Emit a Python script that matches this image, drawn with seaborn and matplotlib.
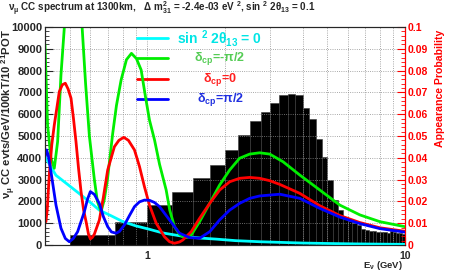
import numpy as np
import pandas as pd
import matplotlib
matplotlib.use('Agg')
import matplotlib.pyplot as plt
import seaborn as sns
from matplotlib.ticker import MultipleLocator, FixedLocator, NullFormatter, LogLocator
from matplotlib.lines import Line2D

# nu_mu CC spectrum, 0.25 GeV bins from 0.5 to 10 GeV
bin_edges = [round(0.5 + 0.25 * i, 2) for i in range(39)]
counts = [460, 1070, 1830, 2450, 3060, 3670, 4360, 5050, 5700, 6090,
          6530, 6880, 6930, 6880, 6270, 5770, 4850, 4050, 2980, 2060,
          1600, 1300, 1100, 1000, 900, 750, 680, 640, 620, 600,
          590, 600, 570, 620, 590, 560, 530, 500]

# appearance probability, sin^2 2theta13 = 0
e_cyan = [0.400, 0.441, 0.512, 0.595, 0.650, 0.720, 0.800, 0.900, 1.018, 1.150,
          1.372, 1.600, 1.850, 2.200, 2.727, 3.300, 4.000, 5.000, 6.500, 8.000, 10.0]
p_cyan = [0.0405, 0.032, 0.026, 0.0199, 0.016, 0.0135, 0.0108, 0.0088, 0.0072, 0.0055,
          0.0040, 0.0032, 0.0027, 0.0020, 0.0015, 0.0012, 0.0009, 0.0007, 0.0005,
          0.0004, 0.0003]

# delta_cp = -pi/2
e_green = [0.400, 0.4093, 0.4219, 0.4346, 0.4478, 0.4614, 0.4756, 0.492, 0.5134, 0.535,
           0.5574, 0.575, 0.5948, 0.622, 0.6389, 0.6605, 0.680, 0.699, 0.7328, 0.7577,
           0.790, 0.8285, 0.8665, 0.906, 0.945, 0.9822, 1.018, 1.065, 1.114, 1.182,
           1.220, 1.273, 1.330, 1.372, 1.418, 1.479, 1.593, 1.744, 1.906, 2.085,
           2.279, 2.494, 2.727, 2.984, 3.360, 3.903, 4.671, 5.586, 6.683, 7.993, 10.0]
p_green = [0.092, 0.055, 0.0398, 0.0352, 0.0474, 0.078, 0.100, 0.125, 0.138, 0.127,
           0.100, 0.074, 0.050, 0.030, 0.020, 0.0153, 0.021, 0.030, 0.0512, 0.064,
           0.0757, 0.085, 0.0879, 0.0855, 0.0803, 0.068, 0.0573, 0.0482, 0.037, 0.0252,
           0.016, 0.0084, 0.0050, 0.0038, 0.0034, 0.0046, 0.0107, 0.0191, 0.0275, 0.0344,
           0.0398, 0.0417, 0.0423, 0.0417, 0.0382, 0.0321, 0.0252, 0.0183, 0.0138, 0.0107,
           0.0084]

# delta_cp = 0
e_red = [0.400, 0.4032, 0.408, 0.4155, 0.425, 0.4346, 0.4545, 0.467, 0.4797, 0.492,
         0.5048, 0.516, 0.5277, 0.540, 0.5521, 0.565, 0.5776, 0.590, 0.600, 0.611,
         0.622, 0.6505, 0.6743, 0.7006, 0.744, 0.7745, 0.8087, 0.8435, 0.8902, 0.931,
         0.9734, 1.018, 1.081, 1.164, 1.218, 1.273, 1.332, 1.372, 1.479, 1.593,
         1.744, 1.906, 2.085, 2.279, 2.494, 2.727, 2.984, 3.264, 3.903, 4.671,
         5.586, 6.683, 7.993, 10.0]
p_red = [0.0122, 0.0107, 0.016, 0.032, 0.046, 0.055, 0.0703, 0.0735, 0.0742, 0.0715,
         0.0673, 0.058, 0.0474, 0.035, 0.0245, 0.016, 0.0107, 0.005, 0.0028, 0.0035,
         0.005, 0.0115, 0.022, 0.0344, 0.0451, 0.048, 0.0494, 0.048, 0.0436, 0.036,
         0.0267, 0.0183, 0.0100, 0.0038, 0.0015, 0.0008, 0.0014, 0.0023, 0.0061, 0.0122,
         0.0191, 0.0252, 0.029, 0.0306, 0.031, 0.0306, 0.0295, 0.0278, 0.0237, 0.018,
         0.0135, 0.0103, 0.0079, 0.0063]

# delta_cp = +pi/2
e_blue = [0.400, 0.4058, 0.412, 0.4219, 0.4413, 0.4614, 0.4797, 0.4972, 0.5153, 0.5355,
          0.5687, 0.585, 0.600, 0.622, 0.6505, 0.6743, 0.7006, 0.7244, 0.7554, 0.7781,
          0.8137, 0.8511, 0.8902, 0.931, 0.9734, 1.018, 1.065, 1.114, 1.218, 1.332,
          1.457, 1.593, 1.744, 1.906, 2.085, 2.279, 2.494, 2.727, 3.264, 3.903,
          4.671, 5.586, 6.683, 7.993, 10.0]
p_blue = [0.0405, 0.0436, 0.041, 0.0336, 0.0183, 0.0077, 0.0030, 0.0015, 0.0030, 0.0061,
          0.0153, 0.021, 0.0245, 0.0232, 0.0190, 0.013, 0.0084, 0.006, 0.0054, 0.0062,
          0.0092, 0.0135, 0.0176, 0.0198, 0.0206, 0.0205, 0.0195, 0.0176, 0.0115, 0.0054,
          0.0034, 0.0031, 0.0061, 0.0115, 0.016, 0.0191, 0.0214, 0.0225, 0.0233, 0.0214,
          0.0168, 0.0128, 0.0098, 0.0075, 0.0059]

legend_labels = [r'sin $^{2}$ 2$\theta_{13}$ = 0', r'$\delta_{cp}$=-$\pi$/2',
                 r'$\delta_{cp}$=0', r'$\delta_{cp}$=$\pi$/2']

sns.set_style('ticks')
plt.rcParams['font.family'] = ['Liberation Sans', 'DejaVu Sans']
plt.rcParams['font.weight'] = 'bold'
plt.rcParams['mathtext.fontset'] = 'custom'
plt.rcParams['mathtext.rm'] = 'Liberation Sans:bold'
plt.rcParams['mathtext.it'] = 'Liberation Sans:bold'
plt.rcParams['mathtext.bf'] = 'Liberation Sans:bold'
plt.rcParams['mathtext.sf'] = 'Liberation Sans:bold'

fig = plt.figure(figsize=(4.5, 2.71), dpi=100)
ax = fig.add_axes([0.1, 0.0959, 0.8, 0.8045])

df_hist = pd.DataFrame({'E': [(a + b) / 2 for a, b in zip(bin_edges[:-1], bin_edges[1:])],
                        'n': counts})
sns.histplot(data=df_hist, x='E', weights='n', bins=bin_edges, color='black',
             alpha=1, edgecolor='#3a3a3a', linewidth=0.4, ax=ax)
ax.set_xscale('log')
ax.set_xlim(0.4, 10)
ax.set_ylim(0, 10000)
ax.set_xlabel('')
ax.set_ylabel('')

ax.yaxis.set_major_locator(MultipleLocator(1000))
ax.yaxis.set_minor_locator(MultipleLocator(200))
ax.xaxis.set_major_locator(FixedLocator([1, 10]))
ax.xaxis.set_minor_locator(LogLocator(base=10, subs=np.arange(2, 10)))
ax.xaxis.set_minor_formatter(NullFormatter())
ax.set_xticklabels(['1', '10'])
ax.tick_params(axis='both', which='major', direction='in', length=6, width=0.8,
               labelsize=8, pad=2)
ax.tick_params(axis='both', which='minor', direction='in', length=3, width=0.6)
ax.tick_params(axis='x', pad=4, labelsize=7.5)
for lab in ax.get_xticklabels() + ax.get_yticklabels():
    lab.set_fontweight('bold')

ax.set_axisbelow(False)
ax.xaxis.grid(True, which='both', color='#8c8c8c', linestyle=':', linewidth=0.6)
ax.yaxis.grid(True, which='major', color='#8c8c8c', linestyle=':', linewidth=0.6)

ax2 = ax.twinx()
colors = ['#00ffff', '#00ee00', '#ff0000', '#0000ff']
curves = [(e_cyan, p_cyan), (e_green, p_green), (e_red, p_red), (e_blue, p_blue)]
for (e, p), c in zip(curves, colors):
    sns.lineplot(x=e, y=p, ax=ax2, color=c, linewidth=2, estimator=None,
                 sort=False, legend=False)
ax2.set_ylim(0, 0.1)
ax2.set_ylabel('')
ax2.set_yticks(np.arange(0, 0.101, 0.01))
ax2.yaxis.set_minor_locator(MultipleLocator(0.002))
ax2.set_yticklabels(['0', '0.01', '0.02', '0.03', '0.04', '0.05', '0.06',
                     '0.07', '0.08', '0.09', '0.1'])
ax2.tick_params(axis='y', which='major', direction='in', length=6, width=0.8,
                colors='red', labelsize=7.5, pad=2)
ax2.tick_params(axis='y', which='minor', direction='in', length=3, width=0.6,
                colors='red')
for lab in ax2.get_yticklabels():
    lab.set_fontweight('bold')
ax2.spines['right'].set_color('red')

# legend
text_colors = ['#00e5e5', '#55cc55', '#ff2020', '#2030e0']
leg_y = [0.948, 0.856, 0.760, 0.668]
sizes = [10, 9, 9, 9]
for lbl, c, tc, y, s in zip(legend_labels, colors, text_colors, leg_y, sizes):
    ax.add_line(Line2D([0.2556, 0.3417], [y, y], transform=ax.transAxes,
                       color=c, linewidth=2, zorder=5))
    ax.text(0.486, y, lbl, transform=ax.transAxes, color=tc, fontsize=s,
            fontweight='bold', ha='center', va='center', zorder=6)

fig.text(8 / 450, 1 - 9 / 271,
         r'$\nu_{\mu}$ CC spectrum at 1300km,   $\Delta$ m$^{2}_{31}$ = -2.4e-03 eV $^{2}$, sin $^{2}$ 2$\theta_{13}$ = 0.1',
         fontsize=7.1, fontweight='bold', ha='left', va='center')
fig.text(9 / 450, 1 - 29 / 271, r'$\nu_{\mu}$ CC evts/GeV/100kT/10 $^{21}$POT',
         rotation=90, fontsize=8.1, fontweight='bold', ha='center', va='top')
fig.text(440 / 450, 1 - 30 / 271, 'Appearance Probability', rotation=90,
         fontsize=7.6, fontweight='bold', color='red', ha='center', va='top')
fig.text(403 / 450, 1 - 265.5 / 271, r'E$_{\nu}$ (GeV)', fontsize=6.8,
         fontweight='bold', ha='right', va='center')

fig.savefig('out.png', dpi=100)
